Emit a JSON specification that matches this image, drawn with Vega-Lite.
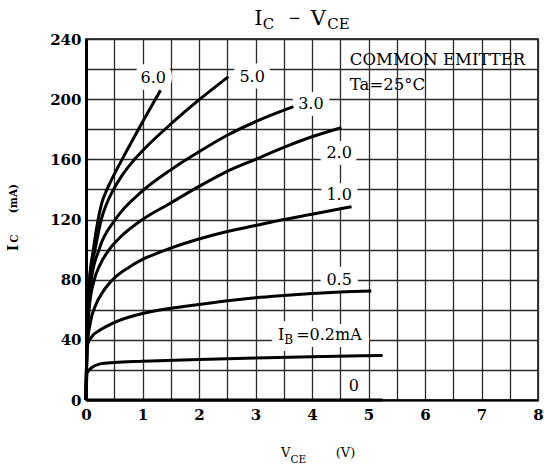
{
  "$schema": "https://vega.github.io/schema/vega-lite/v6.json",
  "width": 452,
  "height": 361,
  "autosize": {"type": "none"},
  "padding": {"left": 86, "top": 39, "right": 6, "bottom": 72},
  "background": "white",
  "config": {
    "view": {"stroke": "black", "strokeWidth": 1.5},
    "font": "DejaVu Serif",
    "text": {"font": "DejaVu Serif", "color": "black"}
  },
  "datasets": {
    "curves": [
      {"ib": "6.0", "v": 0, "i": 0}, {"ib": "6.0", "v": 0.02, "i": 50}, {"ib": "6.0", "v": 0.06, "i": 79}, {"ib": "6.0", "v": 0.13, "i": 100}, {"ib": "6.0", "v": 0.21, "i": 119}, {"ib": "6.0", "v": 0.28, "i": 131}, {"ib": "6.0", "v": 0.36, "i": 139}, {"ib": "6.0", "v": 0.46, "i": 147}, {"ib": "6.0", "v": 0.64, "i": 160}, {"ib": "6.0", "v": 0.9, "i": 178}, {"ib": "6.0", "v": 1.1, "i": 191.5}, {"ib": "6.0", "v": 1.32, "i": 206},
      {"ib": "5.0", "v": 0, "i": 0}, {"ib": "5.0", "v": 0.02, "i": 50}, {"ib": "5.0", "v": 0.06, "i": 79}, {"ib": "5.0", "v": 0.16, "i": 100}, {"ib": "5.0", "v": 0.27, "i": 120}, {"ib": "5.0", "v": 0.36, "i": 130}, {"ib": "5.0", "v": 0.48, "i": 139.5}, {"ib": "5.0", "v": 0.65, "i": 150}, {"ib": "5.0", "v": 0.85, "i": 159.5}, {"ib": "5.0", "v": 1.1, "i": 169.5}, {"ib": "5.0", "v": 1.37, "i": 179}, {"ib": "5.0", "v": 1.73, "i": 191}, {"ib": "5.0", "v": 2.0, "i": 199.5}, {"ib": "5.0", "v": 2.25, "i": 207}, {"ib": "5.0", "v": 2.52, "i": 215},
      {"ib": "3.0", "v": 0, "i": 0}, {"ib": "3.0", "v": 0.02, "i": 45}, {"ib": "3.0", "v": 0.09, "i": 79}, {"ib": "3.0", "v": 0.23, "i": 100}, {"ib": "3.0", "v": 0.52, "i": 120}, {"ib": "3.0", "v": 1.0, "i": 139}, {"ib": "3.0", "v": 1.5, "i": 153}, {"ib": "3.0", "v": 2.0, "i": 165}, {"ib": "3.0", "v": 2.5, "i": 176}, {"ib": "3.0", "v": 3.0, "i": 185}, {"ib": "3.0", "v": 3.67, "i": 195},
      {"ib": "2.0", "v": 0, "i": 0}, {"ib": "2.0", "v": 0.02, "i": 40}, {"ib": "2.0", "v": 0.06, "i": 62}, {"ib": "2.0", "v": 0.14, "i": 79}, {"ib": "2.0", "v": 0.25, "i": 90}, {"ib": "2.0", "v": 0.41, "i": 100}, {"ib": "2.0", "v": 0.6, "i": 108}, {"ib": "2.0", "v": 1.0, "i": 120}, {"ib": "2.0", "v": 1.5, "i": 131}, {"ib": "2.0", "v": 2.0, "i": 142}, {"ib": "2.0", "v": 2.5, "i": 152}, {"ib": "2.0", "v": 3.0, "i": 160}, {"ib": "2.0", "v": 3.5, "i": 168}, {"ib": "2.0", "v": 4.0, "i": 175}, {"ib": "2.0", "v": 4.52, "i": 181},
      {"ib": "1.0", "v": 0, "i": 0}, {"ib": "1.0", "v": 0.02, "i": 35}, {"ib": "1.0", "v": 0.08, "i": 52}, {"ib": "1.0", "v": 0.17, "i": 63}, {"ib": "1.0", "v": 0.3, "i": 72}, {"ib": "1.0", "v": 0.5, "i": 81}, {"ib": "1.0", "v": 0.75, "i": 88}, {"ib": "1.0", "v": 1.0, "i": 93.5}, {"ib": "1.0", "v": 1.25, "i": 97.5}, {"ib": "1.0", "v": 1.5, "i": 101}, {"ib": "1.0", "v": 2.0, "i": 107}, {"ib": "1.0", "v": 2.5, "i": 112}, {"ib": "1.0", "v": 3.0, "i": 116}, {"ib": "1.0", "v": 3.5, "i": 120}, {"ib": "1.0", "v": 4.0, "i": 123.5}, {"ib": "1.0", "v": 4.7, "i": 128.5},
      {"ib": "0.5", "v": 0, "i": 0}, {"ib": "0.5", "v": 0.02, "i": 36}, {"ib": "0.5", "v": 0.1, "i": 42}, {"ib": "0.5", "v": 0.25, "i": 46.5}, {"ib": "0.5", "v": 0.5, "i": 51.5}, {"ib": "0.5", "v": 1.0, "i": 57.5}, {"ib": "0.5", "v": 1.5, "i": 61}, {"ib": "0.5", "v": 2.0, "i": 63.5}, {"ib": "0.5", "v": 2.5, "i": 66}, {"ib": "0.5", "v": 3.0, "i": 68}, {"ib": "0.5", "v": 3.5, "i": 69.5}, {"ib": "0.5", "v": 4.0, "i": 70.8}, {"ib": "0.5", "v": 4.5, "i": 71.8}, {"ib": "0.5", "v": 5.05, "i": 72.5},
      {"ib": "0.2", "v": 0, "i": 0}, {"ib": "0.2", "v": 0.02, "i": 18}, {"ib": "0.2", "v": 0.1, "i": 21.5}, {"ib": "0.2", "v": 0.25, "i": 24}, {"ib": "0.2", "v": 0.5, "i": 25}, {"ib": "0.2", "v": 1.0, "i": 25.8}, {"ib": "0.2", "v": 2.0, "i": 27}, {"ib": "0.2", "v": 3.0, "i": 28}, {"ib": "0.2", "v": 4.0, "i": 28.8}, {"ib": "0.2", "v": 5.25, "i": 29.6},
      {"ib": "0", "v": 0, "i": 0}, {"ib": "0", "v": 5.25, "i": 0}
    ],
    "labels": [
      {"t": "6.0", "v": 1.19, "i": 214},
      {"t": "5.0", "v": 2.94, "i": 215},
      {"t": "3.0", "v": 3.98, "i": 197},
      {"t": "2.0", "v": 4.48, "i": 164.5},
      {"t": "1.0", "v": 4.48, "i": 136},
      {"t": "0.5", "v": 4.48, "i": 80},
      {"t": "0", "v": 4.74, "i": 9}
    ],
    "ibMain": [
      {"t": "I", "v": 3.4, "i": 40.2},
      {"t": "=0.2mA", "v": 3.72, "i": 40.2}
    ],
    "ibSub": [
      {"t": "B", "v": 3.51, "i": 37.5}
    ]
  },
  "encoding": {
    "x": {
      "field": "v", "type": "quantitative",
      "scale": {"domain": [0, 8], "nice": false, "zero": false},
      "axis": {
        "values": [0, 0.5, 1, 1.5, 2, 2.5, 3, 3.5, 4, 4.5, 5, 5.5, 6, 6.5, 7, 7.5, 8],
        "labelExpr": "datum.value % 1 === 0 ? format(datum.value, 'd') : ''",
        "grid": true, "gridColor": "#2a2a2a", "gridWidth": 1.3, "gridOpacity": 1,
        "domainColor": "black", "domainWidth": 2, "ticks": false,
        "labelFont": "DejaVu Serif", "labelFontSize": 15, "labelFontWeight": "bold", "labelColor": "black",
        "labelPadding": 7, "labelFlush": false, "labelOverlap": false, "title": null
      }
    },
    "y": {
      "field": "i", "type": "quantitative",
      "scale": {"domain": [0, 240], "nice": false, "zero": false},
      "axis": {
        "values": [0, 20, 40, 60, 80, 100, 120, 140, 160, 180, 200, 220, 240],
        "labelExpr": "datum.value % 40 === 0 ? format(datum.value, 'd') : ''",
        "grid": true, "gridColor": "#2a2a2a", "gridWidth": 1.3, "gridOpacity": 1,
        "domainColor": "black", "domainWidth": 3, "ticks": false,
        "labelFont": "DejaVu Serif", "labelFontSize": 15, "labelFontWeight": "bold", "labelColor": "black",
        "labelPadding": 5, "labelFlush": false, "labelOverlap": false, "title": null
      }
    }
  },
  "layer": [
    {
      "data": {"values": [{}]},
      "mark": {"type": "rect", "fill": "white", "stroke": "black", "strokeWidth": 1.5},
      "encoding": {
        "x": {"datum": 4.5, "type": "quantitative"},
        "x2": {"datum": 8},
        "y": {"datum": 200, "type": "quantitative"},
        "y2": {"datum": 240}
      }
    },
    {
      "data": {"name": "labels"},
      "mark": {"type": "text", "fontSize": 16, "fill": "white", "stroke": "white", "strokeWidth": 14, "strokeJoin": "round", "align": "center", "baseline": "middle"},
      "encoding": {"text": {"field": "t"}}
    },
    {
      "data": {"name": "ibMain"},
      "mark": {"type": "text", "fontSize": 16, "fill": "white", "stroke": "white", "strokeWidth": 14, "strokeJoin": "round", "align": "left", "baseline": "alphabetic"},
      "encoding": {"text": {"field": "t"}}
    },
    {
      "data": {"name": "ibSub"},
      "mark": {"type": "text", "fontSize": 12, "fill": "white", "stroke": "white", "strokeWidth": 14, "strokeJoin": "round", "align": "left", "baseline": "alphabetic"},
      "encoding": {"text": {"field": "t"}}
    },
    {
      "data": {"name": "curves"},
      "mark": {"type": "line", "color": "black", "strokeWidth": 3, "interpolate": "monotone", "strokeCap": "butt"},
      "encoding": {"detail": {"field": "ib"}}
    },
    {
      "data": {"name": "labels"},
      "mark": {"type": "text", "fontSize": 16, "color": "black", "align": "center", "baseline": "middle"},
      "encoding": {"text": {"field": "t"}}
    },
    {
      "data": {"name": "ibMain"},
      "mark": {"type": "text", "fontSize": 16, "color": "black", "align": "left", "baseline": "alphabetic"},
      "encoding": {"text": {"field": "t"}}
    },
    {
      "data": {"name": "ibSub"},
      "mark": {"type": "text", "fontSize": 12, "color": "black", "align": "left", "baseline": "alphabetic"},
      "encoding": {"text": {"field": "t"}}
    },
    {
      "data": {"values": [{"t": "COMMON EMITTER", "v": 4.67, "i": 222.9}, {"t": "Ta=25°C", "v": 4.67, "i": 206.2}]},
      "mark": {"type": "text", "fontSize": 16.5, "color": "black", "align": "left", "baseline": "alphabetic"},
      "encoding": {"text": {"field": "t"}}
    },
    {
      "data": {"values": [{"t": "I", "v": 2.98, "i": 249}, {"t": "V", "v": 3.98, "i": 249}]},
      "mark": {"type": "text", "fontSize": 21, "color": "black", "align": "left", "baseline": "alphabetic"},
      "encoding": {"text": {"field": "t"}}
    },
    {
      "data": {"values": [{"t": "C", "v": 3.13, "i": 246.5}, {"t": "CE", "v": 4.27, "i": 246.5}, {"t": "−", "v": 3.58, "i": 250.5}]},
      "mark": {"type": "text", "fontSize": 15, "color": "black", "align": "left", "baseline": "alphabetic"},
      "encoding": {"text": {"field": "t"}}
    },
    {
      "data": {"values": [{"t": "V", "v": 3.45, "i": -37.8}, {"t": "(V)", "v": 4.42, "i": -37.8}]},
      "mark": {"type": "text", "fontSize": 13, "color": "black", "align": "left", "baseline": "alphabetic"},
      "encoding": {"text": {"field": "t"}}
    },
    {
      "data": {"values": [{"t": "CE", "v": 3.62, "i": -41.6}]},
      "mark": {"type": "text", "fontSize": 10.5, "color": "black", "align": "left", "baseline": "alphabetic"},
      "encoding": {"text": {"field": "t"}}
    },
    {
      "data": {"values": [{"t": "I", "v": -1.198, "i": 98.9}]},
      "mark": {"type": "text", "fontSize": 14, "fontWeight": "bold", "angle": 270, "color": "black", "align": "left", "baseline": "alphabetic"},
      "encoding": {"text": {"field": "t"}}
    },
    {
      "data": {"values": [{"t": "C", "v": -1.198, "i": 104.5}, {"t": "(mA)", "v": -1.23, "i": 124.2}]},
      "mark": {"type": "text", "fontSize": 10.5, "fontWeight": "bold", "angle": 270, "color": "black", "align": "left", "baseline": "alphabetic"},
      "encoding": {"text": {"field": "t"}}
    }
  ]
}
